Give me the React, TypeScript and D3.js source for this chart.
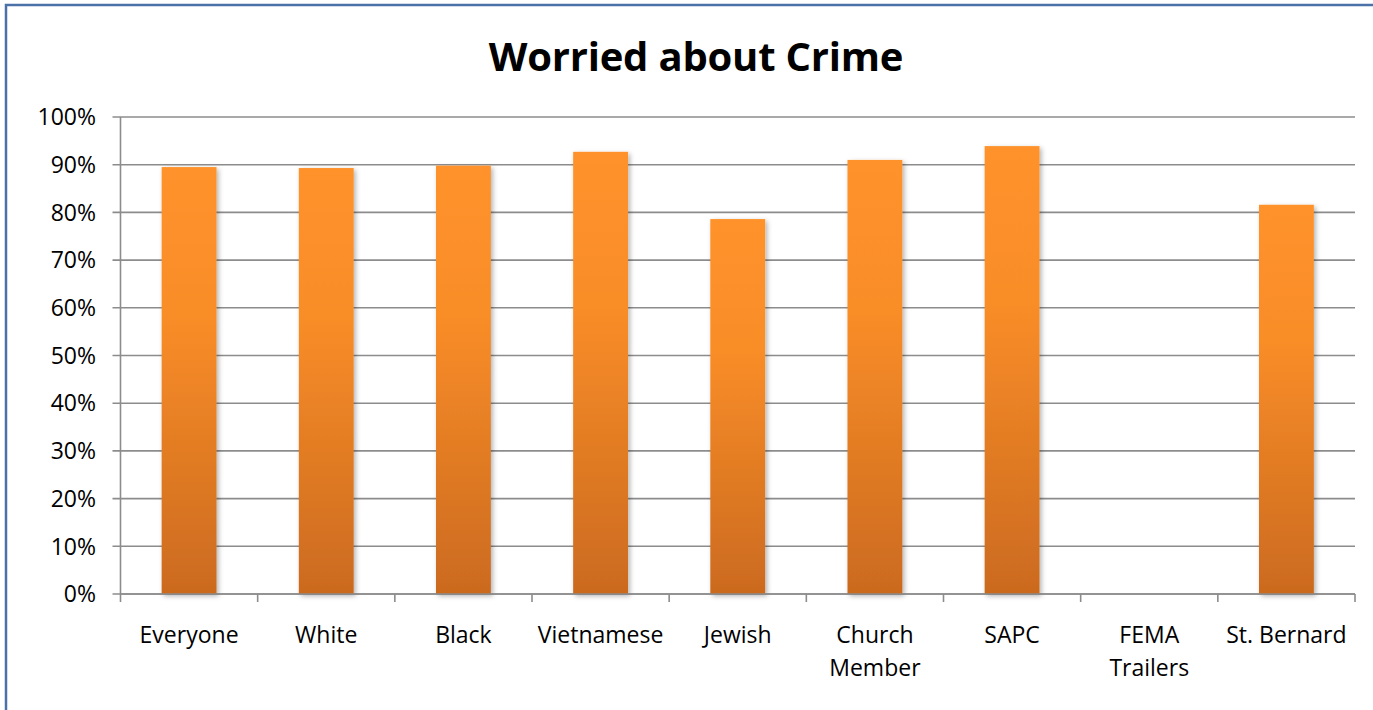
import React from "react";
import * as d3 from "d3";

const categories: string[][] = [
  ["Everyone"],
  ["White"],
  ["Black"],
  ["Vietnamese"],
  ["Jewish"],
  ["Church", "Member"],
  ["SAPC"],
  ["FEMA", "Trailers"],
  ["St. Bernard"],
];
const values: number[] = [0.895, 0.893, 0.898, 0.927, 0.786, 0.91, 0.939, 0, 0.816];
const yTicks: number[] = [0, 0.1, 0.2, 0.3, 0.4, 0.5, 0.6, 0.7, 0.8, 0.9, 1.0];
const title = "Worried about Crime";

const W = 1373;
const H = 710;
const plot = { left: 120.5, right: 1355, top: 117, bottom: 594 };
const FONT = "'Open Sans', Carlito, Calibri, sans-serif";

export default function App() {
  const keys = categories.map((c) => c.join(" "));
  const x = d3.scaleBand<string>().domain(keys).range([plot.left, plot.right]).paddingInner(0.6).paddingOuter(0.3);
  const xb = d3.scaleBand<string>().domain(keys).range([plot.left, plot.right]).padding(0);
  const y = d3.scaleLinear().domain([0, 1]).range([plot.bottom, plot.top]);
  const fmt = d3.format(".0%");
  const grid = "#8c8c8c";

  return (
    <svg width={W} height={H} style={{ position: "absolute", left: 0, top: 0, background: "#fff" }} fontFamily={FONT}>
      <defs>
        <linearGradient id="barGrad" x1="0" y1="0" x2="0" y2="1">
          <stop offset="0" stopColor="#ff922a" />
          <stop offset="0.35" stopColor="#f98d28" />
          <stop offset="1" stopColor="#cb6a1f" />
        </linearGradient>
        <filter id="shadow" x="-20%" y="-5%" width="140%" height="110%">
          <feDropShadow dx="2" dy="2" stdDeviation="2.5" floodColor="#000" floodOpacity="0.3" />
        </filter>
      </defs>
      <rect x={6} y={5} width={W + 10} height={H + 10} fill="#fff" stroke="#4a72a8" strokeWidth={2.5} />
      <text x={696} y={71} textAnchor="middle" fontSize={40} fontWeight="bold" fill="#000" letterSpacing={-0.2}>
        {title}
      </text>
      {yTicks.map((t) => (
        <g key={t}>
          <line x1={plot.left - 8} x2={plot.right} y1={y(t)} y2={y(t)} stroke={grid} strokeWidth={1.6} />
          <text x={96} y={y(t)} dy="0.36em" textAnchor="end" fontSize={23} fill="#000">
            {fmt(t)}
          </text>
        </g>
      ))}
      <line x1={plot.left} x2={plot.left} y1={plot.top} y2={plot.bottom} stroke={grid} strokeWidth={1.6} />
      {keys.map((k, i) =>
        values[i] > 0 ? (
          <rect
            key={k}
            x={x(k)}
            y={y(values[i])}
            width={x.bandwidth()}
            height={y(0) - y(values[i])}
            fill="url(#barGrad)"
            filter="url(#shadow)"
          />
        ) : null
      )}
      <line x1={plot.left} x2={plot.right} y1={plot.bottom} y2={plot.bottom} stroke={grid} strokeWidth={1.6} />
      {[...keys.map((k) => xb(k) as number), plot.right].map((tx, i) => (
        <line key={i} x1={tx} x2={tx} y1={plot.bottom} y2={plot.bottom + 8} stroke={grid} strokeWidth={1.6} />
      ))}
      {categories.map((lines, i) => (
        <text key={i} x={(xb(keys[i]) as number) + xb.bandwidth() / 2} y={643} textAnchor="middle" fontSize={23} fill="#000">
          {lines.map((l, j) => (
            <tspan key={j} x={(xb(keys[i]) as number) + xb.bandwidth() / 2} dy={j === 0 ? 0 : 33}>
              {l}
            </tspan>
          ))}
        </text>
      ))}
    </svg>
  );
}
